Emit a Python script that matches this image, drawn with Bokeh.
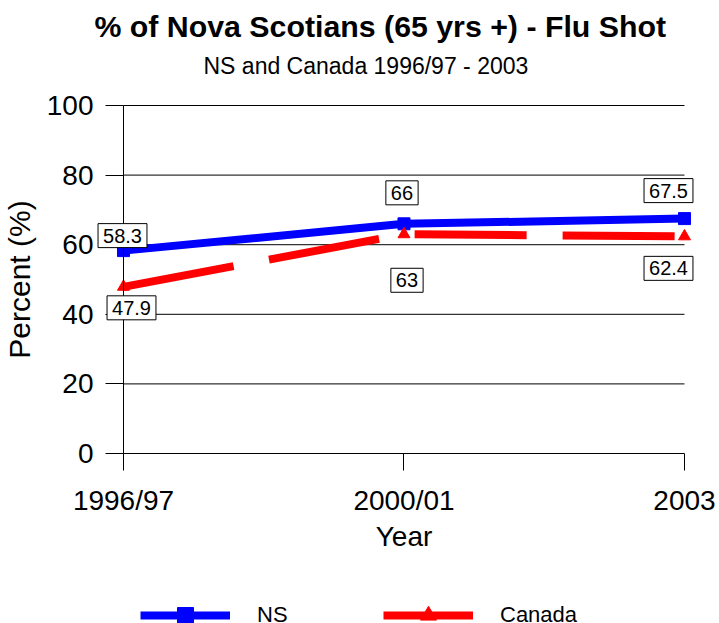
from bokeh.plotting import figure
from bokeh.models import Label, Legend, LegendItem, Title, FixedTicker, Range1d
from bokeh.embed import file_html
from bokeh.resources import INLINE

# Flu shot coverage, people aged 65+
years = ["1996/97", "2000/01", "2003"]
ns_pct = [58.3, 66.0, 67.5]
canada_pct = [47.9, 63.0, 62.4]
y_ticks = [0, 20, 40, 60, 80, 100]

FONT = "Liberation Sans"
BLUE = "#0000ff"
RED = "#ff0000"

xs = list(range(len(years)))

# The frame fills the canvas below the titles; axes are pinned at x=0 / y=0
p = figure(
    width=719, height=623, title=None,
    output_backend="svg", toolbar_location=None,
    x_range=Range1d(-0.4385, xs[-1] + 0.1248),
    y_range=Range1d(-48.85, 105.75),
    min_border_left=0, min_border_right=0,
    min_border_top=85, min_border_bottom=0,
)
p.outline_line_color = None
p.background_fill_color = "white"
p.border_fill_color = "white"
p.xgrid.visible = False
p.ygrid.visible = False

# horizontal rules spanning the category extent only
p.segment(x0=[xs[0]] * len(y_ticks), y0=y_ticks,
          x1=[xs[-1]] * len(y_ticks), y1=y_ticks,
          line_color="black", line_width=1)

ns_line = p.line(xs, ns_pct, line_color=BLUE, line_width=8)
ns_mk = p.scatter(xs, ns_pct, marker="square", size=12,
                  fill_color=BLUE, line_color=BLUE)
ca_line = p.line(xs, canada_pct, line_color=RED, line_width=8,
                 line_dash="112 36")
ca_mk = p.scatter(xs, canada_pct, marker="triangle", size=12,
                  fill_color=RED, line_color=RED)

# boxed value labels (pixel offsets from each point)
ns_offsets = [(-1, 15), (-2, 31), (-16, 28)]
ca_offsets = [(8, -21), (3, -46), (-16, -32)]
for series, offsets in ((ns_pct, ns_offsets), (canada_pct, ca_offsets)):
    for x, v, (dx, dy) in zip(xs, series, offsets):
        p.add_layout(Label(
            x=x, y=v, x_offset=dx, y_offset=dy, text=f"{v:g}",
            text_font=FONT, text_font_size="20px", text_color="black",
            text_align="center", text_baseline="middle",
            background_fill_color="white", border_line_color="black",
            border_line_width=1, padding=5,
        ))

# y axis, pinned at the first category
p.yaxis.fixed_location = xs[0]
p.yaxis.bounds = (y_ticks[0], y_ticks[-1])
p.yaxis.ticker = FixedTicker(ticks=y_ticks)
p.yaxis.axis_line_color = "black"
p.yaxis.major_tick_out = 18
p.yaxis.major_tick_in = 0
p.yaxis.minor_tick_out = 0
p.yaxis.minor_tick_in = 0
p.yaxis.major_label_text_font = FONT
p.yaxis.major_label_text_font_size = "28px"
p.yaxis.major_label_text_color = "black"
p.yaxis.major_label_standoff = 12
p.yaxis.axis_label = "Percent (%)"
p.yaxis.axis_label_text_font = FONT
p.yaxis.axis_label_text_font_size = "30px"
p.yaxis.axis_label_text_font_style = "normal"
p.yaxis.axis_label_text_color = "black"
p.yaxis.axis_label_standoff = 8

# x axis, pinned at zero percent
p.xaxis.fixed_location = 0
p.xaxis.bounds = (xs[0], xs[-1])
p.xaxis.ticker = FixedTicker(ticks=xs)
p.xaxis.major_label_overrides = {i: y for i, y in enumerate(years)}
p.xaxis.axis_line_color = None
p.xaxis.major_tick_out = 17
p.xaxis.major_tick_in = 0
p.xaxis.minor_tick_out = 0
p.xaxis.minor_tick_in = 0
p.xaxis.major_tick_line_color = "black"
p.xaxis.major_label_text_font = FONT
p.xaxis.major_label_text_font_size = "28px"
p.xaxis.major_label_text_color = "black"
p.xaxis.major_label_standoff = 14
p.xaxis.axis_label = "Year"
p.xaxis.axis_label_text_font = FONT
p.xaxis.axis_label_text_font_size = "28px"
p.xaxis.axis_label_text_font_style = "normal"
p.xaxis.axis_label_text_color = "black"
p.xaxis.axis_label_standoff = 2

# titles
p.add_layout(Title(text="NS and Canada 1996/97 - 2003", text_font=FONT,
                   text_font_size="23px", text_font_style="normal",
                   text_color="black", align="left", offset=203,
                   standoff=13), "above")
p.add_layout(Title(text="% of Nova Scotians (65 yrs +) - Flu Shot",
                   text_font=FONT, text_font_size="30.3px",
                   text_font_style="bold", text_color="black",
                   align="left", offset=94, standoff=3), "above")

legend = Legend(
    items=[LegendItem(label="NS", renderers=[ns_line, ns_mk]),
           LegendItem(label="Canada", renderers=[ca_line, ca_mk])],
    orientation="horizontal", location=(140, -12),
    glyph_width=90, glyph_height=40, label_standoff=27, label_width=126,
    spacing=0, padding=0, margin=0,
    border_line_color=None, background_fill_alpha=0,
    label_text_font=FONT, label_text_font_size="22px",
    label_text_color="black",
)
p.add_layout(legend, "center")

open("out.html", "w").write(file_html(p, INLINE))
